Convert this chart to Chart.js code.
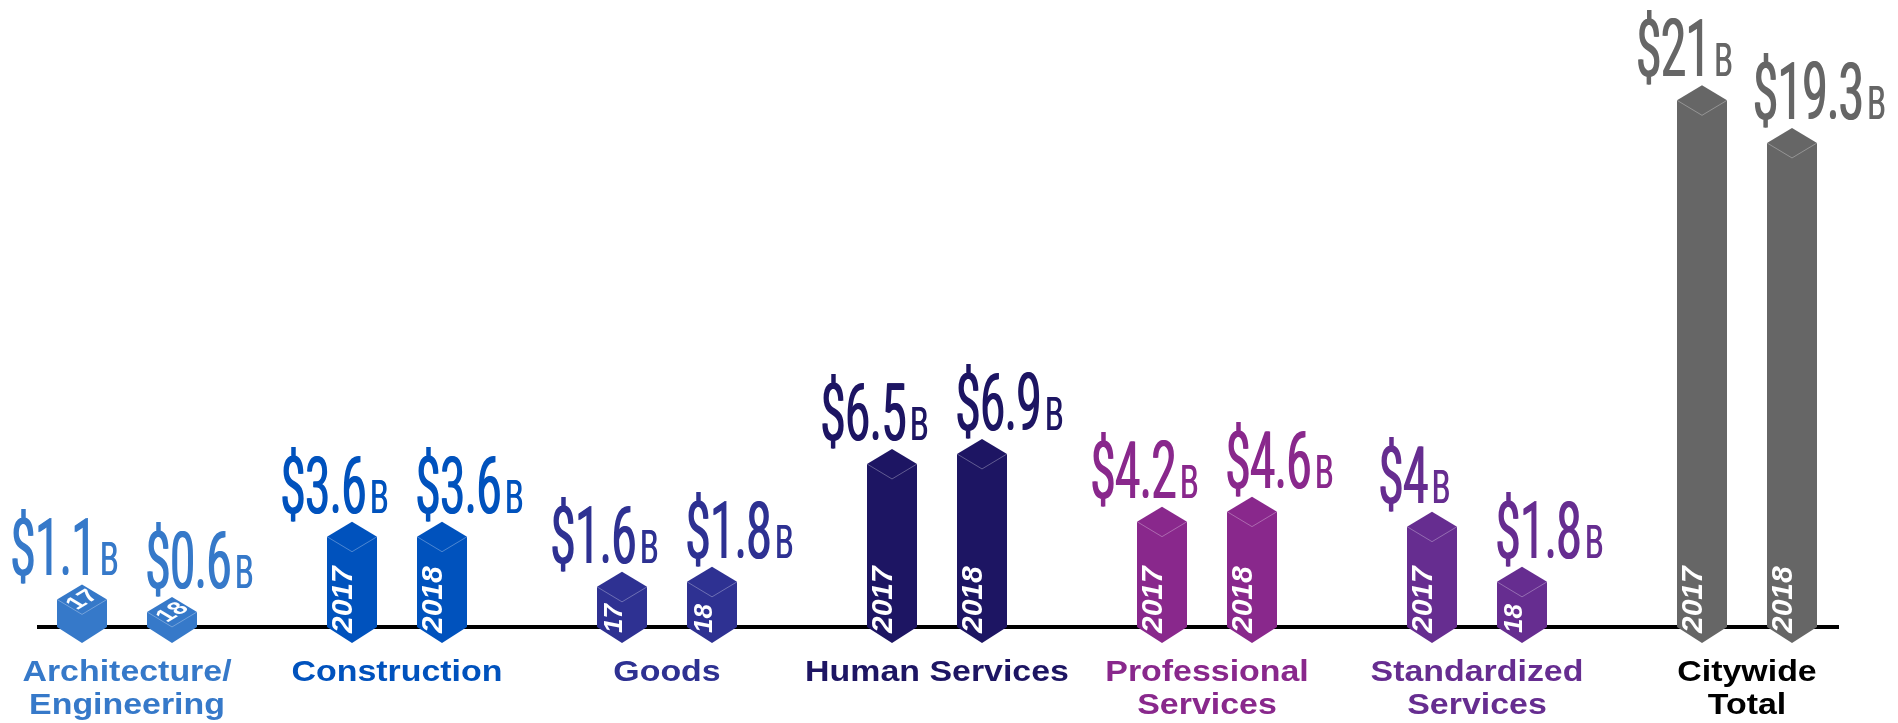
<!DOCTYPE html>
<html>
<head>
<meta charset="utf-8">
<title>Spending by category, FY2017 vs FY2018</title>
<script src="https://cdn.jsdelivr.net/npm/chart.js@4.4.1/dist/chart.umd.min.js"></script>
<style>
    html, body { margin: 0; padding: 0; background: #fff; overflow: hidden; }
    #wrap { position: absolute; left: -8px; top: 0; width: 1906px; height: 723px; }
</style>
</head>
<body>
<div id="wrap"><canvas id="spend-chart"></canvas></div>
<script>
/* Isometric bars — spending per category, 2017 vs 2018 ($B) */

const CATEGORIES = [
    ["Architecture/", "Engineering"],
    ["Construction"],
    ["Goods"],
    ["Human Services"],
    ["Professional", "Services"],
    ["Standardized", "Services"],
    ["Citywide", "Total"],
];
const YEARS = ["2017", "2018"];
const YEARS_SHORT = ["17", "18"];
const SPEND_2017 = [1.1, 3.6, 1.6, 6.5, 4.2, 4, 21];
const SPEND_2018 = [0.6, 3.6, 1.8, 6.9, 4.6, 1.8, 19.3];

const BAR_COLORS = ["#3679c9", "#0052bd", "#2e3192", "#1d1563", "#89288c", "#662d90", "#666666"];
const NAME_COLORS = ["#3679c9", "#0052bd", "#2e3192", "#1d1563", "#89288c", "#662d90", "#000000"];

const TOP_H = 15;          // half height of the top diamond
const BOTTOM_H = 16;       // point under the base line
const LABEL_SHIFT = [-18, 27]; // value label offset from bar centre, per year

/* === value label: condensed "$x.x" + small "B" === */
function drawValue(ctx, value, cx, baseY, color) {
    const main = "$" + value;
    const SX = 0.55, SXB = 0.64;
    ctx.font = "400 80px Roboto";
    const w1 = ctx.measureText(main).width * SX;
    ctx.font = "400 46px Roboto";
    const w2 = ctx.measureText("B").width * SXB;
    const x0 = cx - (w1 + 4 + w2) / 2;

    ctx.fillStyle = color;
    ctx.textAlign = "left";
    ctx.textBaseline = "alphabetic";
    [0, 1.2].forEach((dx) => {
        ctx.save();
        ctx.translate(x0 + dx, baseY);
        ctx.scale(SX, 1);
        ctx.font = "400 80px Roboto";
        ctx.fillText(main, 0, 0);
        ctx.restore();

        ctx.save();
        ctx.translate(x0 + w1 + 4 + dx * 0.6, baseY);
        ctx.scale(SXB, 1);
        ctx.font = "400 46px Roboto";
        ctx.fillText("B", 0, 0);
        ctx.restore();
    });
}

/* === year label, on the front or on the top face === */
function drawYear(ctx, ds, bar) {
    const h = bar.base - bar.y;
    ctx.save();
    ctx.fillStyle = "#fff";
    if (h < 35) {
        // too short: lay it on the top face
        ctx.translate(bar.x, bar.y);
        ctx.transform(0.857, -0.514, 0.857, 0.514, 0, 0);
        ctx.font = "bold 24px 'Liberation Sans', Arial, sans-serif";
        ctx.textAlign = "center";
        ctx.textBaseline = "middle";
        ctx.fillText(YEARS_SHORT[ds], 0, 1);
    } else {
        const short = h < 70;
        ctx.translate(bar.x, bar.base + 6);
        ctx.rotate(-Math.PI / 2);
        ctx.font = short
            ? "italic bold 26px 'Liberation Sans', Arial, sans-serif"
            : "italic bold 30px 'Liberation Sans', Arial, sans-serif";
        ctx.textAlign = "left";
        ctx.textBaseline = "alphabetic";
        ctx.fillText(short ? YEARS_SHORT[ds] : YEARS[ds], 0, 0);
    }
    ctx.restore();
}

const isoBars = {
    id: "isoBars",
    beforeDatasetsDraw(chart) {
        const { ctx, chartArea, scales } = chart;
        const y0 = scales.y.getPixelForValue(0);
        ctx.save();
        ctx.fillStyle = "#000";
        ctx.fillRect(chartArea.left + 45, y0 - 2, chartArea.width - 88, 4);
        ctx.restore();
    },
    afterDatasetsDraw(chart) {
        const { ctx } = chart;
        chart.data.datasets.forEach((dataset, ds) => {
            const meta = chart.getDatasetMeta(ds);
            meta.data.forEach((el, i) => {
                const bar = el.getProps(["x", "y", "base", "width"], true);
                const hw = bar.width / 2;
                const color = BAR_COLORS[i];

                ctx.save();
                ctx.fillStyle = color;
                ctx.beginPath();
                ctx.moveTo(bar.x, bar.y - TOP_H);
                ctx.lineTo(bar.x + hw, bar.y);
                ctx.lineTo(bar.x + hw, bar.base);
                ctx.lineTo(bar.x, bar.base + BOTTOM_H);
                ctx.lineTo(bar.x - hw, bar.base);
                ctx.lineTo(bar.x - hw, bar.y);
                ctx.closePath();
                ctx.fill();

                // faint inner edges of the top face
                ctx.strokeStyle = "rgba(255,255,255,0.3)";
                ctx.lineWidth = 1;
                ctx.beginPath();
                ctx.moveTo(bar.x - hw, bar.y);
                ctx.lineTo(bar.x, bar.y + TOP_H);
                ctx.lineTo(bar.x + hw, bar.y);
                ctx.stroke();
                ctx.restore();

                drawYear(ctx, ds, bar);
                drawValue(ctx, dataset.data[i], bar.x + LABEL_SHIFT[ds], bar.y - TOP_H - 9, color);
            });
        });
    },
    afterDraw(chart) {
        const { ctx, scales } = chart;
        ctx.save();
        ctx.textAlign = "center";
        ctx.textBaseline = "alphabetic";
        CATEGORIES.forEach((lines, i) => {
            const x = scales.x.getPixelForValue(i);
            ctx.fillStyle = NAME_COLORS[i];
            lines.forEach((line, k) => {
                ctx.save();
                ctx.translate(x, 681 + k * 33);
                ctx.scale(1.13, 1);
                ctx.font = "bold 30px 'Liberation Sans', Arial, sans-serif";
                ctx.fillText(line, 0, 0);
                ctx.restore();
            });
        });
        ctx.restore();
    },
};

new Chart(document.getElementById("spend-chart"), {
    type: "bar",
    data: {
        labels: CATEGORIES.map((c) => c.join(" ")),
        datasets: [
            { label: YEARS[0], data: SPEND_2017, backgroundColor: "rgba(0,0,0,0)",
              categoryPercentage: 2 / 3, barPercentage: 5 / 9 },
            { label: YEARS[1], data: SPEND_2018, backgroundColor: "rgba(0,0,0,0)",
              categoryPercentage: 2 / 3, barPercentage: 5 / 9 },
        ],
    },
    options: {
        responsive: true,
        maintainAspectRatio: false,
        animation: false,
        layout: { padding: { left: 0, right: 16, top: 0, bottom: 96 } },
        scales: {
            x: { display: false },
            y: { display: false, min: 0, max: 25 },
        },
        plugins: {
            legend: { display: false },
            tooltip: { enabled: false },
        },
    },
    plugins: [isoBars],
});
</script>
</body>
</html>
